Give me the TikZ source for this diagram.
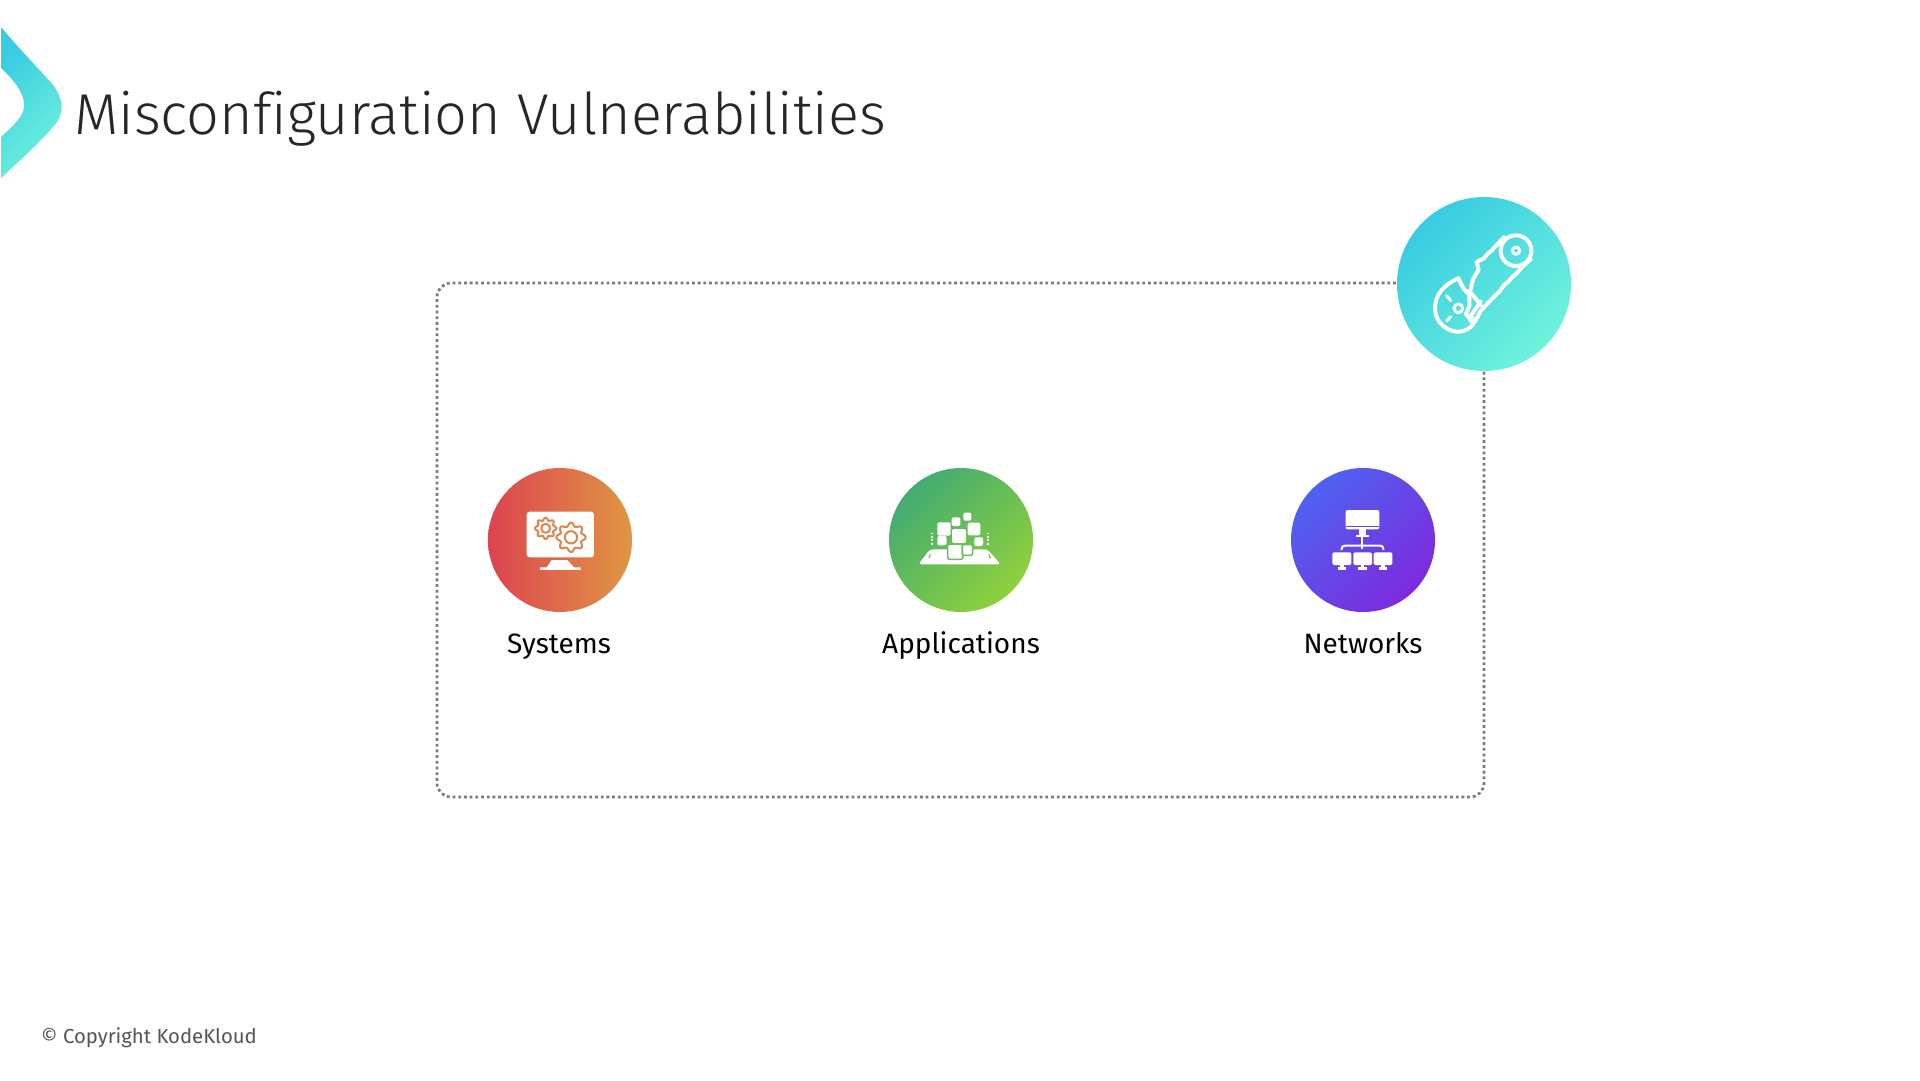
\documentclass[tikz,border=0pt]{standalone}
\usepackage{fontspec}
\setmainfont{Fira Sans}
\newfontfamily\titlefont{Fira Sans Light}[Ligatures=CommonOff]
\definecolor{titleink}{HTML}{262626}
\definecolor{footink}{HTML}{555555}
\definecolor{dotgrey}{HTML}{7A7A7A}
\definecolor{tealA}{HTML}{38CCE2}
\definecolor{tealB}{HTML}{70F2DC}
\definecolor{sysA}{HTML}{DC4450}
\definecolor{sysB}{HTML}{DF9643}
\definecolor{sysgear}{HTML}{E0844C}
\definecolor{appA}{HTML}{42AC72}
\definecolor{appB}{HTML}{90D03C}
\definecolor{appgap}{HTML}{6FBC58}
\definecolor{netA}{HTML}{4E62F0}
\definecolor{netB}{HTML}{7E2ADC}
\definecolor{netgap}{HTML}{6244E8}
\tikzset{
  disc/.style={circle,inner sep=0pt,minimum size=144pt},
  sysdisc/.style={disc,left color=sysA,right color=sysB},
  appdisc/.style={disc,left color=appA,right color=appB,shading angle=45},
  netdisc/.style={disc,left color=netA,right color=netB,shading angle=45},
  sawdisc/.style={circle,inner sep=0pt,minimum size=174pt,left color=tealA,right color=tealB,shading angle=45},
  label/.style={font=\fontsize{28}{31}\selectfont,text=black,anchor=base,inner sep=0pt},
  gearline/.style={draw=sysgear,line width=2pt,line join=round},
  sawline/.style={draw=white,line width=4pt,line cap=round,line join=round},
  sawfine/.style={draw=white,line width=3pt,line cap=round,line join=round},
}
\newcommand{\kkgear}[3]{%
  \draw[gearline] plot[samples=121,domain=0:360,variable=\t]
    ({#1+(#3*0.88+#3*0.12*cos(8*\t))*cos(\t)},{#2+(#3*0.88+#3*0.12*cos(8*\t))*sin(\t)}) -- cycle;
  \draw[gearline] (#1,#2) circle[radius=#3*0.42];
}
\newcommand{\kksq}[4][white]{%
  \fill[#1,rounded corners=2pt] (#2,#3) ++(-#4/2,-#4/2) rectangle ++(#4,#4);
}
\newcommand{\kkmon}[2]{%
  \fill[white,rounded corners=1.5pt] (#1,277) rectangle (#2,315);
  \fill[white] ({(#1+#2)/2-5},315) rectangle ({(#1+#2)/2+5},325);
  \fill[white] ({(#1+#2)/2-13},322) rectangle ({(#1+#2)/2+13},329);
}
\begin{document}
\begin{tikzpicture}[x=1pt,y=-1pt]
\useasboundingbox (0,0) rectangle (1920,1080);
\fill[white] (0,0) rectangle (1920,1080);

% chevron
\path[left color=tealA,right color=tealB,shading angle=45]
  (1,27) .. controls (20,50) and (40,70) .. (53,85)
  .. controls (62,97) and (65,110) .. (57,122)
  .. controls (40,143) and (20,160) .. (1,178)
  -- (1,137) .. controls (14,125) and (26,115) .. (24,102)
  .. controls (22,90) and (12,78) .. (1,68) -- cycle;

\node[font=\titlefont\fontsize{57.6}{62}\selectfont,text=titleink,anchor=base west,inner sep=0pt] (title) at (74,134) {Misconfiguration Vulnerabilities};

% dotted frame
\node[rectangle,draw=dotgrey,line width=2.8pt,dash pattern=on 2.8pt off 2.9pt,rounded corners=14pt,
      minimum width=1047pt,minimum height=514pt,inner sep=0pt] (frame) at (960.5,540) {};

% corner badge
\node[sawdisc] (saw) at (1484,284) {};
\begin{scope}[shift={(1380,180)},x=0.3333pt,y=-0.3333pt]
  \draw[sawline] (408,212) circle[radius=46];
  \draw[sawfine] (408,212) circle[radius=11];
  \draw[sawline] (372,172) -- (355,190) -- (345,200) -- (335,212) -- (322,222) -- (312,235) -- (290,246)
    -- (296,270) -- (280,295) -- (270,335) -- (302,375);
  \draw[sawline] (452,238) -- (425,262) -- (410,280) -- (398,290) -- (385,305) -- (372,315) -- (358,335)
    -- (342,350) -- (302,392) -- (285,425) -- (272,408) -- (302,365);
  \draw[sawline] (235,295) .. controls (190,315) and (165,345) .. (165,385)
    .. controls (165,430) and (205,458) .. (240,455) .. controls (258,452) and (270,445) .. (280,432);
  \draw[sawline] (235,295) -- (250,325) -- (268,345) -- (268,378) -- (258,402) -- (280,432);
  \draw[sawfine] (235,385) circle[radius=13];
  \draw[sawfine] (200,347) -- (212,362);
  \draw[sawfine] (200,423) -- (212,410);
\end{scope}

% systems
\node[sysdisc] (sys) at (560,540) {};
\begin{scope}[shift={(480,460)},x=0.3333pt,y=-0.3333pt]
  \fill[white,rounded corners=3pt] (140,155) rectangle (342,292);
  \fill[white] (215,300) -- (262,300) -- (282,322) -- (302,322) -- (302,330) -- (180,330) -- (180,322) -- (200,322) -- cycle;
  \kkgear{197}{205}{32}
  \kkgear{273}{232}{44}
\end{scope}
\node[label] (syslabel) at (559,653) {Systems};

% applications
\node[appdisc] (app) at (961,540) {};
\begin{scope}[shift={(880,460)},x=0.3333pt,y=-0.3333pt]
  \fill[white,rounded corners=3pt] (150,268) -- (322,268) -- (362,313) -- (115,313) -- cycle;
  \draw[white,line width=1.7pt,dash pattern=on 1.7pt off 1.7pt] (155,218) -- (155,258);
  \draw[white,line width=1.7pt,dash pattern=on 1.7pt off 1.7pt] (323,218) -- (323,258);
  \draw[appgap,line width=1.2pt] (147,295) -- (151,283);
  \draw[appgap,line width=1.2pt] (331,295) -- (327,283);
  \kksq{262}{170}{24}
  \kksq{228}{185}{26}
  \kksq{192}{207}{40}
  \kksq{282}{207}{38}
  \kksq{237}{228}{42}
  \kksq{186}{242}{28}
  \kksq{296}{245}{26}
  \kksq[white,draw=appgap,line width=1.5pt]{226}{275}{46}
  \kksq[white,draw=appgap,line width=1.5pt]{262}{270}{32}
\end{scope}
\node[label] (applabel) at (961,653) {Applications};

% networks
\node[netdisc] (net) at (1363,540) {};
\begin{scope}[shift={(1290,460)},x=0.3333pt,y=-0.3333pt]
  \fill[white,rounded corners=2pt] (167,150) rectangle (268,208);
  \draw[netgap,line width=1pt] (167,200) -- (268,200);
  \fill[white] (207,208) rectangle (228,226);
  \fill[white] (197,225) rectangle (238,232);
  \draw[white,line width=2pt] (217,232) -- (217,268);
  \draw[white,line width=2pt,rounded corners=3pt] (155,270) -- (155,257) -- (280,257) -- (280,270);
  \kkmon{127}{184}
  \kkmon{190}{246}
  \kkmon{251}{307}
\end{scope}
\node[label] (netlabel) at (1363,653) {Networks};

\node[font=\fontsize{20.3}{24}\selectfont,text=footink,anchor=base west,inner sep=0pt] (copy) at (41,1043) {© Copyright KodeKloud};
\end{tikzpicture}
\end{document}
